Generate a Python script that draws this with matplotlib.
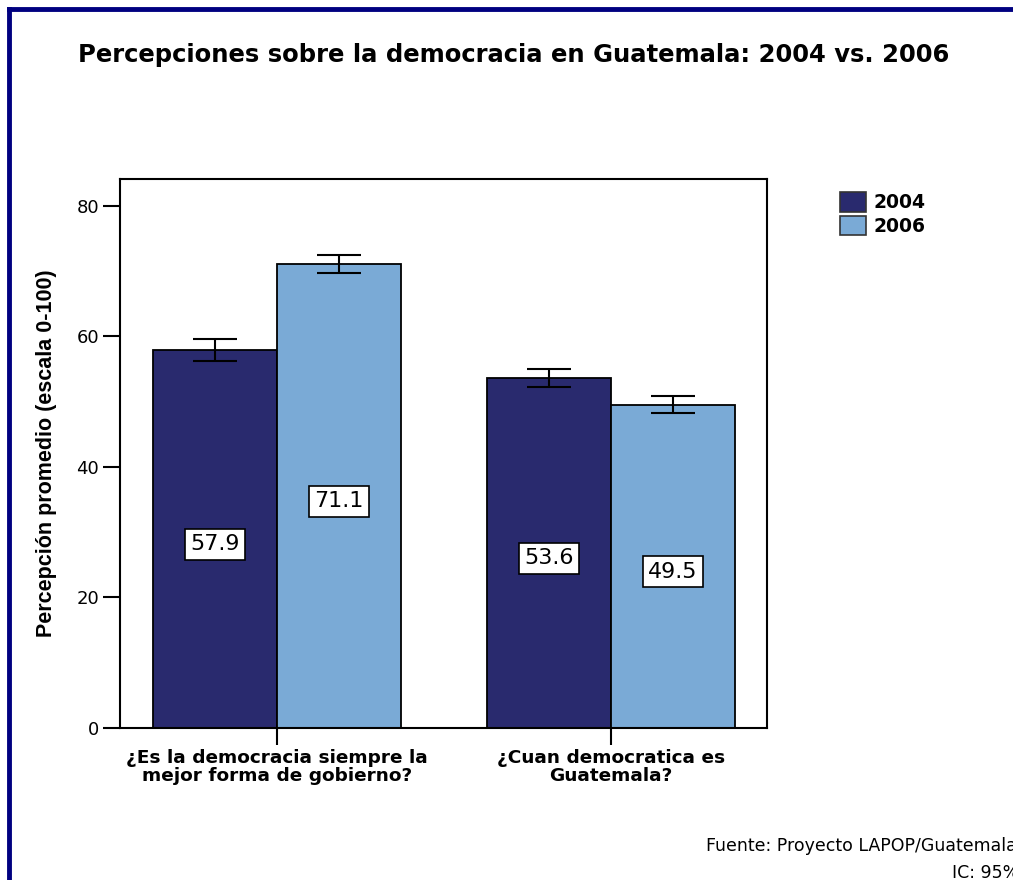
import numpy as np
import matplotlib.pyplot as plt
from matplotlib.patches import Patch
from matplotlib.lines import Line2D

categorias = ['¿Es la democracia siempre la\nmejor forma de gobierno?',
              '¿Cuan democratica es\nGuatemala?']
anios = ['2004', '2006']
valores_2004 = [57.9, 53.6]
valores_2006 = [71.1, 49.5]
error_2004 = [1.7, 1.35]
error_2006 = [1.4, 1.3]
colores = ['#292A6E', '#7AAAD6']

plt.rcParams['font.family'] = ['DejaVu Sans']

fig = plt.figure(figsize=(10.13, 8.8), dpi=100)
ax = fig.add_axes([120 / 1013, 1 - 728 / 880, 647 / 1013, 549 / 880])

x = np.arange(len(categorias))
ancho = 0.371
series = [(valores_2004, error_2004), (valores_2006, error_2006)]
for i, (vals, errs) in enumerate(series):
    pos = x + (i - 0.5) * ancho
    ax.bar(pos, vals, width=ancho, color=colores[i], edgecolor='black', linewidth=1.3, zorder=2)
    ax.errorbar(pos, vals, yerr=errs, fmt='none', ecolor='black', elinewidth=1.5,
                capsize=16, capthick=1.5, zorder=3)
    for p, v in zip(pos, vals):
        ax.text(p, v / 2 - 0.8, f'{v:.1f}', ha='center', va='center', fontsize=16,
                bbox=dict(boxstyle='square,pad=0.25', facecolor='white', edgecolor='black', linewidth=1.2),
                zorder=4)

ax.set_xlim(-0.47, 1.467)
ax.set_ylim(0, 84.1)
ax.set_yticks([0, 20, 40, 60, 80])
ax.set_xticks(x)
ax.set_xticklabels(categorias, fontsize=13.3, fontweight='bold', linespacing=1.0)
ax.tick_params(axis='y', labelsize=13, length=12, width=1.5, direction='out', pad=3)
ax.tick_params(axis='x', length=12, width=1.5, direction='out', pad=3)
for s in ax.spines.values():
    s.set_linewidth(1.5)

ax.set_ylabel('Percepción promedio (escala 0-100)', fontsize=15.5, fontweight='bold',
              family=['Liberation Sans'], labelpad=14)

handles = [Patch(facecolor=colores[i], edgecolor='#333333', linewidth=1.2, label=anios[i]) for i in range(2)]
fig.legend(handles=handles, loc='upper left', bbox_to_anchor=(832 / 1013, 1 - 185 / 880),
           frameon=False, prop={'weight': 'bold', 'size': 13.5}, handlelength=1.4, handleheight=1.2,
           handletextpad=0.4, labelspacing=0.2, borderaxespad=0)

fig.text(514 / 1013, 1 - 55 / 880, 'Percepciones sobre la democracia en Guatemala: 2004 vs. 2006',
         ha='center', va='center', fontsize=17.5, fontweight='bold')
fig.text(706 / 1013, 1 - 846 / 880, 'Fuente: Proyecto LAPOP/Guatemala', ha='left', va='center', fontsize=12.5)
fig.text(952 / 1013, 1 - 873 / 880, 'IC: 95%', ha='left', va='center', fontsize=12.5)

# marco azul
fig.add_artist(Line2D([9 / 1013, 9 / 1013], [0, 1 - 9 / 880], color='#000080', linewidth=3.5,
                      transform=fig.transFigure))
fig.add_artist(Line2D([9 / 1013, 1.0], [1 - 9 / 880, 1 - 9 / 880], color='#000080', linewidth=3.5,
                      transform=fig.transFigure))

fig.savefig('out.png', dpi=100)
